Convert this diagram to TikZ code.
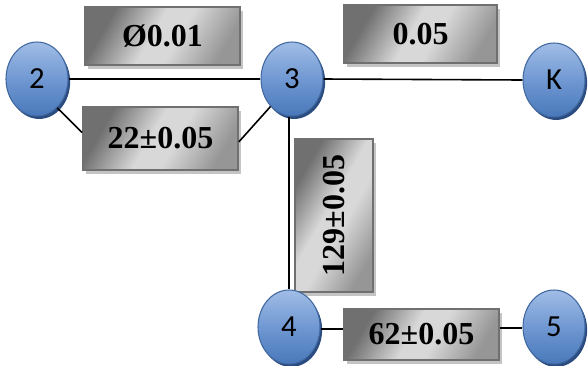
\documentclass[tikz,border=0pt]{standalone}
\usepackage{fontspec}
\usepackage{graphicx}
\setmainfont{Liberation Serif}
\newfontfamily\numfont{Carlito}
\usetikzlibrary{shapes.geometric,shadows}
\definecolor{ballTop}{RGB}{160,189,230}
\definecolor{ballMid}{RGB}{112,152,210}
\definecolor{ballBot}{RGB}{72,120,186}
\definecolor{ballEdge}{RGB}{66,104,160}
\definecolor{ballShade}{RGB}{42,76,128}
\definecolor{tagDark}{RGB}{112,112,112}
\definecolor{tagLight}{RGB}{216,216,216}
\definecolor{tagRight}{RGB}{150,150,150}
\definecolor{tagEdge}{RGB}{112,112,112}
\definecolor{tagShade}{RGB}{196,196,196}
% metallic band across the label boxes
\pgfdeclarehorizontalshading{tagmetal}{100bp}{color(0bp)=(tagDark); color(27bp)=(tagDark);
  color(46bp)=(tagLight); color(56bp)=(tagLight); color(75bp)=(tagRight); color(100bp)=(tagRight)}
\pgfdeclareverticalshading{ballglow}{100bp}{color(0bp)=(ballBot); color(25bp)=(ballBot);
  color(50bp)=(ballMid); color(75bp)=(ballTop); color(100bp)=(ballTop)}
\begin{document}
\begin{tikzpicture}[x=0.75pt,y=-0.75pt,
  ball/.style={ellipse, minimum width=62*0.75pt, minimum height=74*0.75pt,
    inner sep=0pt, shading=ballglow,
    draw=ballEdge, line width=0.8pt,
    drop shadow={shadow xshift=1.6pt, shadow yshift=-2.2pt, fill=ballShade, opacity=1},
    font=\numfont\fontsize{23}{27}\selectfont},
  tag/.style={rectangle, inner sep=0pt, draw=tagEdge, line width=1.3pt,
    shading=tagmetal, shading angle=-30,
    drop shadow={shadow xshift=2.6pt, shadow yshift=-3.2pt, fill=tagShade, opacity=1},
    font=\bfseries\fontsize{24}{28}\selectfont},
  link/.style={draw=black, line width=1.2pt}]
\useasboundingbox (0,0) rectangle (588,365);

% tolerance labels
\node[tag, minimum width=155*0.75pt, minimum height=58*0.75pt] (bphi) at (162.5,36) {\raisebox{-2pt}{Ø0.01}};
\node[tag, minimum width=153*0.75pt, minimum height=58*0.75pt] (bpar) at (420.5,34) {0.05};
\node[tag, minimum width=155*0.75pt, minimum height=63*0.75pt] (blen) at (160.5,138.5) {22±0.05};
\node[tag, minimum width=78*0.75pt, minimum height=153*0.75pt] (bver) at (334,215.5) {\rotatebox{90}{129±0.05}};
\node[tag, minimum width=155*0.75pt, minimum height=51*0.75pt] (bend) at (421.5,334.5) {\raisebox{-2.5pt}{62±0.05}};

% points
\node[ball] (n2) at (37,79) {2};
\node[ball] (n3) at (292,79) {3};
\node[ball] (nk) at (554,80) {K};
\node[ball] (n4) at (289,327) {4};
\node[ball] (n5) at (554,327) {5};

% connectors
\draw[link] (n2.east) -- (n3.west);
\draw[link] (n3.east) -- (nk.west);
\draw[link] (n2.-55) -- ([yshift=4.5pt]blen.west);
\draw[link] ([yshift=-2.5pt]blen.east) -- (n3.-128);
\draw[link] (n4.north) -- (n4.north |- n3.south);
\draw[link] (n4.east |- 0,329) -- (bend.west |- 0,329);
\draw[link] (bend.east |- 0,328) -- (n5.west |- 0,328);
\end{tikzpicture}
\end{document}
